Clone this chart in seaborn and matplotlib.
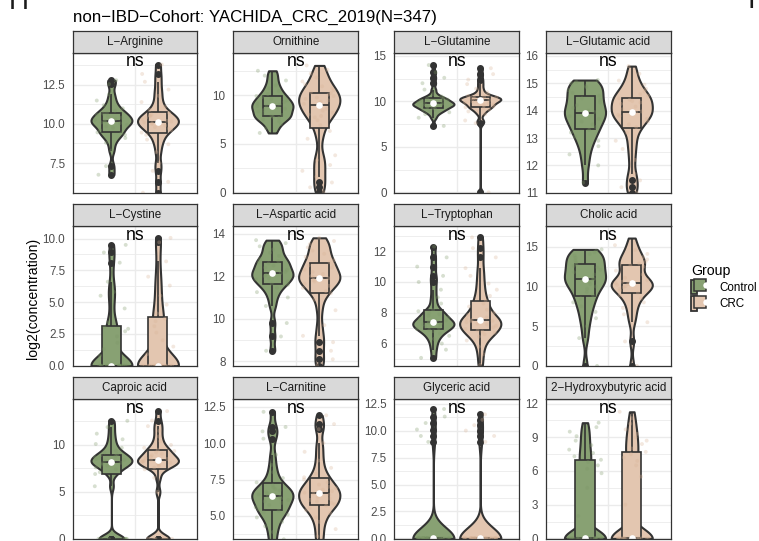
import numpy as np
import pandas as pd
import matplotlib
matplotlib.use("Agg")
import matplotlib.pyplot as plt
import seaborn as sns
from matplotlib.patches import Patch
from matplotlib.lines import Line2D
from matplotlib.legend_handler import HandlerTuple
from matplotlib.ticker import FixedLocator

plt.rcParams["font.family"] = ["Liberation Sans", "DejaVu Sans"]

# ---------------------------------------------------------------- data
groups = ["Control", "CRC"]
metabolites = [
    "L\u2212Arginine", "Ornithine", "L\u2212Glutamine", "L\u2212Glutamic acid",
    "L\u2212Cystine", "L\u2212Aspartic acid", "L\u2212Tryptophan", "Cholic acid",
    "Caproic acid", "L\u2212Carnitine", "Glyceric acid", "2\u2212Hydroxybutyric acid",
]
significance = ["ns", "ns", "ns", "ns", "ns", "ns", "ns", "ns", "ns", "ns", "ns", "ns"]

arginine_control = [6.75, 7.3, 8.3, 8.8, 9.1, 9.3, 9.4, 9.46, 9.6, 9.75, 9.85, 9.95, 10.05, 10.1, 10.15,
                    10.17, 10.25, 10.3, 10.4, 10.5, 10.6, 10.65, 10.7, 10.85, 11.0, 11.2, 11.5, 11.9, 12.55, 12.8]
arginine_crc = [5.6, 6.3, 7.0, 7.5, 8.2, 8.7, 9.0, 9.3, 9.45, 9.6, 9.7, 9.8, 9.9, 10.0, 10.05, 10.1, 10.15,
                10.2, 10.3, 10.4, 10.5, 10.55, 10.6, 10.7, 10.9, 11.1, 11.4, 11.8, 12.2, 12.7, 13.2, 13.8]

ornithine_control = [6.1, 6.6, 7.0, 7.3, 7.5, 7.65, 7.75, 7.85, 7.95, 8.1, 8.3, 8.45, 8.6, 8.75, 8.85, 8.9,
                     9.0, 9.15, 9.3, 9.45, 9.6, 9.8, 9.9, 10.1, 10.4, 10.7, 11.0, 11.5, 12.0, 12.5]
ornithine_crc = [0.0, 0.5, 1.0, 1.6, 2.2, 2.8, 3.3, 3.8, 5.5, 6.3, 6.9, 7.4, 7.7, 7.85, 8.0, 8.2, 8.4, 8.6,
                 8.8, 9.0, 9.1, 9.2, 9.3, 9.45, 9.6, 9.75, 9.9, 10.05, 10.2, 10.3, 10.5, 10.7, 10.9, 11.1,
                 11.4, 11.8, 12.2, 12.6, 13.05]

glutamine_control = [7.3, 8.2, 8.6, 8.8, 8.95, 9.05, 9.15, 9.25, 9.3, 9.4, 9.5, 9.55, 9.6, 9.65, 9.7, 9.75,
                     9.8, 9.85, 9.9, 10.0, 10.1, 10.2, 10.25, 10.3, 10.4, 10.55, 10.8, 11.3, 12.0, 12.6, 13.2, 14.0]
glutamine_crc = [0.0, 7.6, 7.9, 8.6, 8.9, 9.1, 9.25, 9.35, 9.45, 9.55, 9.65, 9.75, 9.85, 9.95, 10.0, 10.05,
                 10.15, 10.2, 10.25, 10.3, 10.35, 10.4, 10.45, 10.5, 10.6, 10.75, 11.0, 11.4, 11.9, 12.4, 13.0, 13.65]

glutamic_control = [11.37, 12.0, 12.4, 12.7, 12.9, 13.05, 13.2, 13.3, 13.4, 13.5, 13.6, 13.7, 13.8, 13.85,
                    13.9, 13.95, 14.0, 14.1, 14.2, 14.3, 14.4, 14.45, 14.55, 14.65, 14.75, 14.85, 14.9, 15.0,
                    15.05, 15.12]
glutamic_crc = [11.0, 11.2, 11.45, 11.7, 12.2, 12.6, 12.9, 13.2, 13.4, 13.5, 13.6, 13.7, 13.8, 13.85, 13.9,
                13.95, 13.97, 14.05, 14.15, 14.25, 14.3, 14.35, 14.4, 14.45, 14.55, 14.6, 14.7, 14.8, 14.95,
                15.1, 15.35, 15.63]

cystine_control = [0.0, 0.0, 0.0, 0.0, 0.0, 0.0, 0.0, 0.0, 0.0, 0.0, 0.0, 0.0, 0.0, 0.0, 0.0, 0.0, 0.0,
                   0.8, 1.3, 1.8, 2.3, 2.7, 2.9, 3.05, 3.4, 4.5, 5.5, 5.8, 6.6, 8.1, 8.9, 9.5]
cystine_crc = [0.0, 0.0, 0.0, 0.0, 0.0, 0.0, 0.0, 0.0, 0.0, 0.0, 0.0, 0.0, 0.0, 0.0, 0.0, 0.0, 0.0,
               0.9, 1.5, 2.0, 2.6, 3.1, 3.5, 3.7, 4.1, 4.8, 5.5, 6.3, 7.0, 8.2, 9.7, 10.05]

aspartic_control = [8.5, 9.17, 9.8, 10.6, 11.0, 11.25, 11.45, 11.6, 11.65, 11.75, 11.85, 11.9, 12.0, 12.05,
                    12.1, 12.15, 12.2, 12.3, 12.4, 12.5, 12.6, 12.65, 12.7, 12.8, 12.95, 13.1, 13.25, 13.4,
                    13.55, 13.69]
aspartic_crc = [7.8, 8.1, 8.5, 8.9, 9.2, 9.7, 10.4, 10.9, 11.2, 11.3, 11.45, 11.55, 11.65, 11.75, 11.82,
                11.88, 11.9, 11.95, 12.0, 12.1, 12.2, 12.3, 12.4, 12.5, 12.55, 12.65, 12.75, 12.9, 13.05,
                13.2, 13.35, 13.5, 13.65, 13.8]

tryptophan_control = [5.07, 5.6, 6.0, 6.3, 6.5, 6.65, 6.8, 6.88, 6.95, 7.0, 7.1, 7.15, 7.2, 7.25, 7.3, 7.35,
                      7.4, 7.45, 7.5, 7.6, 7.7, 7.8, 7.9, 8.0, 8.1, 8.2, 8.6, 9.0, 9.5, 10.0, 10.4, 11.0,
                      11.6, 12.3]
tryptophan_crc = [4.6, 5.3, 5.8, 6.2, 6.45, 6.6, 6.7, 6.78, 6.85, 6.95, 7.05, 7.15, 7.25, 7.3, 7.38, 7.45,
                  7.48, 7.52, 7.6, 7.7, 7.85, 8.0, 8.2, 8.4, 8.6, 8.8, 9.1, 9.5, 9.9, 10.4, 10.9, 11.6,
                  12.2, 12.9]

cholic_control = [0.0, 3.5, 5.0, 6.0, 6.8, 7.5, 8.0, 8.5, 8.9, 9.3, 9.7, 10.0, 10.3, 10.6, 10.8, 10.9,
                  10.95, 11.2, 11.5, 11.8, 12.1, 12.4, 12.6, 12.75, 13.0, 13.3, 13.6, 13.9, 14.1, 14.3,
                  14.5, 14.67]
cholic_crc = [0.0, 3.08, 5.5, 6.5, 7.3, 8.0, 8.5, 8.9, 9.2, 9.5, 9.7, 9.9, 10.05, 10.2, 10.3, 10.35, 10.45,
              10.6, 10.8, 11.1, 11.5, 12.0, 12.5, 12.7, 12.9, 13.1, 13.4, 13.7, 14.1, 14.6, 15.2, 16.1]

caproic_control = [0.0, 0.0, 0.0, 0.0, 0.0, 0.0, 0.0, 5.6, 6.9, 7.1, 7.4, 7.6, 7.8, 7.9, 8.0, 8.05, 8.1,
                   8.2, 8.3, 8.4, 8.5, 8.6, 8.7, 8.8, 8.9, 9.0, 9.2, 9.4, 9.7, 10.1, 10.6, 11.2, 11.9, 12.57]
caproic_crc = [0.0, 0.0, 0.0, 0.0, 0.0, 0.0, 5.0, 6.5, 7.4, 7.6, 7.75, 7.9, 8.0, 8.1, 8.2, 8.25, 8.3, 8.4,
               8.5, 8.6, 8.75, 8.9, 9.05, 9.2, 9.35, 9.5, 9.7, 10.0, 10.4, 10.9, 11.5, 12.0, 12.6, 13.6]

carnitine_control = [2.8, 3.4, 3.9, 4.3, 4.6, 4.9, 5.1, 5.25, 5.35, 5.45, 5.6, 5.75, 5.9, 6.0, 6.1, 6.2, 6.3,
                     6.4, 6.48, 6.55, 6.65, 6.75, 6.85, 6.95, 7.1, 7.3, 7.6, 8.0, 8.5, 9.2, 10.3, 10.8,
                     11.1, 12.14]
carnitine_crc = [3.0, 3.6, 4.1, 4.6, 4.9, 5.2, 5.4, 5.55, 5.7, 5.8, 5.9, 6.0, 6.1, 6.2, 6.3, 6.45, 6.55,
                 6.6, 6.7, 6.8, 6.9, 7.0, 7.15, 7.3, 7.5, 7.65, 7.9, 8.3, 8.8, 9.4, 10.0, 10.95, 11.3, 11.9]

glyceric_control = [0.0, 0.0, 0.0, 0.0, 0.0, 0.0, 0.0, 0.0, 0.0, 0.0, 0.0, 0.0, 0.0, 0.0,
                    0.0, 0.0, 0.0, 0.0, 0.0, 0.0, 0.0, 0.0, 0.0, 0.0, 0.0, 0.0, 0.0, 0.0,
                    0.0, 0.0, 0.0, 0.0, 0.0, 0.0, 0.0, 0.0, 0.0, 0.0, 0.0, 0.0, 0.0, 0.0,
                    8.95, 9.5, 10.1, 10.7, 11.3, 12.0]
glyceric_crc = [0.0, 0.0, 0.0, 0.0, 0.0, 0.0, 0.0, 0.0, 0.0, 0.0, 0.0, 0.0, 0.0, 0.0,
                0.0, 0.0, 0.0, 0.0, 0.0, 0.0, 0.0, 0.0, 0.0, 0.0, 0.0, 0.0, 0.0, 0.0,
                0.0, 0.0, 0.0, 0.0, 0.0, 0.0, 0.0, 0.0, 0.0, 0.0, 0.0, 0.0,
                8.95, 9.5, 10.0, 10.5, 11.0, 11.5]

hydroxybutyric_control = [0.0, 0.0, 0.0, 0.0, 0.0, 0.0, 0.0, 0.0, 0.0, 0.0, 0.0, 0.0, 0.0, 0.0, 0.0, 0.0,
                          0.0, 0.0, 0.0, 0.0, 0.0, 0.0, 2.0, 4.5, 5.8, 6.2, 6.5, 6.8, 7.0, 7.3, 7.6, 7.9,
                          8.3, 8.7, 9.1, 9.5, 9.9, 10.3]
hydroxybutyric_crc = [0.0, 0.0, 0.0, 0.0, 0.0, 0.0, 0.0, 0.0, 0.0, 0.0, 0.0, 0.0, 0.0, 0.0, 0.0, 0.0,
                      0.0, 0.0, 0.0, 0.0, 0.0, 0.0, 3.0, 5.5, 6.5, 6.9, 7.2, 7.5, 7.7, 8.0, 8.4, 8.7,
                      9.0, 9.3, 9.7, 10.2, 10.7, 11.27]

tick_values = [
    [7.5, 10.0, 12.5], [0, 5, 10], [0, 5, 10, 15], [11, 12, 13, 14, 15, 16],
    [0.0, 2.5, 5.0, 7.5, 10.0], [8, 10, 12, 14], [6, 8, 10, 12], [0, 5, 10, 15],
    [0, 5, 10], [5.0, 7.5, 10.0, 12.5], [0.0, 2.5, 5.0, 7.5, 10.0, 12.5], [0, 3, 6, 9, 12],
]
tick_labels = [
    ["7.5", "10.0", "12.5"], ["0", "5", "10"], ["0", "5", "10", "15"], ["11", "12", "13", "14", "15", "16"],
    ["0.0", "2.5", "5.0", "7.5", "10.0"], ["8", "10", "12", "14"], ["6", "8", "10", "12"], ["0", "5", "10", "15"],
    ["0", "5", "10"], ["5.0", "7.5", "10.0", "12.5"], ["0.0", "2.5", "5.0", "7.5", "10.0", "12.5"],
    ["0", "3", "6", "9", "12"],
]

series = [
    (arginine_control, arginine_crc), (ornithine_control, ornithine_crc),
    (glutamine_control, glutamine_crc), (glutamic_control, glutamic_crc),
    (cystine_control, cystine_crc), (aspartic_control, aspartic_crc),
    (tryptophan_control, tryptophan_crc), (cholic_control, cholic_crc),
    (caproic_control, caproic_crc), (carnitine_control, carnitine_crc),
    (glyceric_control, glyceric_crc), (hydroxybutyric_control, hydroxybutyric_crc),
]

records = []
for name, (ctrl, crc) in zip(metabolites, series):
    records += [(name, "Control", v) for v in ctrl]
    records += [(name, "CRC", v) for v in crc]
frame = pd.DataFrame(records, columns=["Metabolite", "Group", "value"])

# ---------------------------------------------------------------- style
EDGE = "#333333"
fill_colors = {"Control": "#88A173", "CRC": "#E3C6B0"}
point_colors = {"Control": "#7C9766", "CRC": "#D9B497"}

y_limits = [
    (5.6, 14.56), (-0.05, 14.36), (-0.05, 15.36), (11.0, 16.12),
    (-0.05, 10.96), (7.77, 14.34), (4.52, 13.62), (-0.05, 17.58),
    (-0.05, 14.86), (3.4, 13.0), (-0.08, 12.9), (-0.08, 12.38),
]
bw_adjust = [0.7, 0.7, 0.7, 0.7, 0.7, 0.7, 0.7, 0.7, 0.7, 0.7, 0.7, 0.45]


def nrd0(kde):
    """Silverman's rule of thumb (R's bw.nrd0) as a gaussian_kde factor."""
    x = kde.dataset[0]
    sd = x.std(ddof=1)
    q75, q25 = np.percentile(x, [75, 25])
    lo = min(sd, (q75 - q25) / 1.349)
    if lo <= 0:
        lo = sd
    return 0.9 * lo * x.size ** -0.2 / sd


W, H = 759, 541
fig = plt.figure(figsize=(W / 100, H / 100), dpi=100)

col_left = [72.7, 233.3, 394.3, 546.0]
col_width = [124.0, 125.0, 125.0, 124.7]
row_strip_top = [30.7, 204.3, 377.3]
strip_h = 22.0
panel_h = 140.0


def fig_rect(x, y_top, w, h):
    return [x / W, 1 - (y_top + h) / H, w / W, h / H]


for i, name in enumerate(metabolites):
    r, c = divmod(i, 4)
    ax = fig.add_axes(fig_rect(col_left[c], row_strip_top[r] + strip_h, col_width[c], panel_h))
    sax = fig.add_axes(fig_rect(col_left[c], row_strip_top[r], col_width[c], strip_h))
    d = frame[frame["Metabolite"] == name]

    sns.violinplot(data=d, x="Group", y="value", hue="Group", order=groups, hue_order=groups,
                   palette=fill_colors, saturation=1, cut=0, inner=None, density_norm="width",
                   width=0.88, linewidth=1.5, linecolor=EDGE, bw_method=nrd0,
                   bw_adjust=bw_adjust[i], legend=False, ax=ax)
    sns.stripplot(data=d, x="Group", y="value", hue="Group", order=groups, hue_order=groups,
                  palette=point_colors, jitter=0.36, size=2.8, alpha=0.3, linewidth=0,
                  legend=False, ax=ax)
    sns.boxplot(data=d, x="Group", y="value", hue="Group", order=groups, hue_order=groups,
                palette=fill_colors, saturation=1, width=0.41, linewidth=1.2, linecolor=EDGE,
                fliersize=4, showcaps=False,
                flierprops=dict(marker="o", markerfacecolor=EDGE, markeredgecolor=EDGE),
                legend=False, ax=ax)
    n_before = len(ax.lines)
    sns.pointplot(data=d, x="Group", y="value", order=groups, estimator="median", errorbar=None,
                  color="white", marker="o", linestyle="none", markersize=4.8,
                  markeredgewidth=0, ax=ax)
    for ln in ax.lines[n_before:]:
        ln.set_zorder(6)

    ax.text(0.5, 1 - 13.3 / panel_h, significance[i], transform=ax.transAxes,
            ha="center", va="baseline", fontsize=12.7, color="black", zorder=7)

    ax.set_xlim(-0.833, 1.833)
    ax.set_xticks([0.5])
    ax.set_xticklabels([])
    ax.set_xlabel("")
    ax.set_ylabel("")
    ax.set_ylim(*y_limits[i])
    ticks = tick_values[i]
    ax.set_yticks(ticks)
    ax.set_yticklabels(tick_labels[i])
    step = ticks[1] - ticks[0]
    minors = [t + step / 2 for t in [ticks[0] - step] + list(ticks)]
    ax.yaxis.set_minor_locator(FixedLocator(minors))
    ax.tick_params(axis="both", which="both", length=0)
    ax.tick_params(axis="y", labelsize=8.4, labelcolor="#4D4D4D", pad=5.5)
    ax.set_facecolor("white")
    ax.set_axisbelow(True)
    ax.grid(which="major", axis="both", color="#EBEBEB", linewidth=1.0)
    ax.grid(which="minor", axis="y", color="#EBEBEB", linewidth=0.6)
    for sp in ax.spines.values():
        sp.set_color(EDGE)
        sp.set_linewidth(0.9)
        sp.set_zorder(8)

    sax.set_facecolor("#D9D9D9")
    sax.set_xticks([])
    sax.set_yticks([])
    for sp in sax.spines.values():
        sp.set_color(EDGE)
        sp.set_linewidth(0.9)
    sax.text(0.5, 0.5, name, ha="center", va="center", fontsize=8.4, color="#1A1A1A",
             transform=sax.transAxes)

# titles and labels
fig.text(72.7 / W, 1 - 21.5 / H, "non\u2212IBD\u2212Cohort: YACHIDA_CRC_2019(N=347)",
         fontsize=12.2, ha="left", va="baseline", color="black")
fig.text(33 / W, 1 - 298 / H, "log2(concentration)", rotation=90, ha="center", va="center",
         fontsize=10.1, color="black")
fig.text(8.8 / W, 1 - 9 / H, "H", fontsize=20, ha="left", va="baseline", color="#1A1A1A")
fig.text(747.5 / W, 1 - 7.5 / H, "I", fontsize=20, ha="left", va="baseline", color="#1A1A1A")

# legend
handles = []
for g in groups:
    bg = Patch(facecolor=fill_colors[g], edgecolor=EDGE, linewidth=1.3)
    box = Line2D([], [], linestyle="none", marker="s", markersize=8.0,
                 markerfacecolor=fill_colors[g], markeredgecolor=EDGE, markeredgewidth=1.1)
    dot = Line2D([], [], linestyle="none", marker="o", markersize=4.6,
                 markerfacecolor="white", markeredgewidth=0)
    handles.append((bg, box, dot))
fig.legend(handles, groups, title="Group", loc="upper left", bbox_to_anchor=(691 / W, 1 - 264 / H),
           frameon=False, fontsize=8.4, title_fontsize=10.2, handlelength=1.55, handleheight=1.55,
           handletextpad=0.85, labelspacing=0.15, borderpad=0, borderaxespad=0, alignment="left",
           handler_map={tuple: HandlerTuple(ndivide=None, pad=0)})

fig.savefig("out.png", dpi=100)
